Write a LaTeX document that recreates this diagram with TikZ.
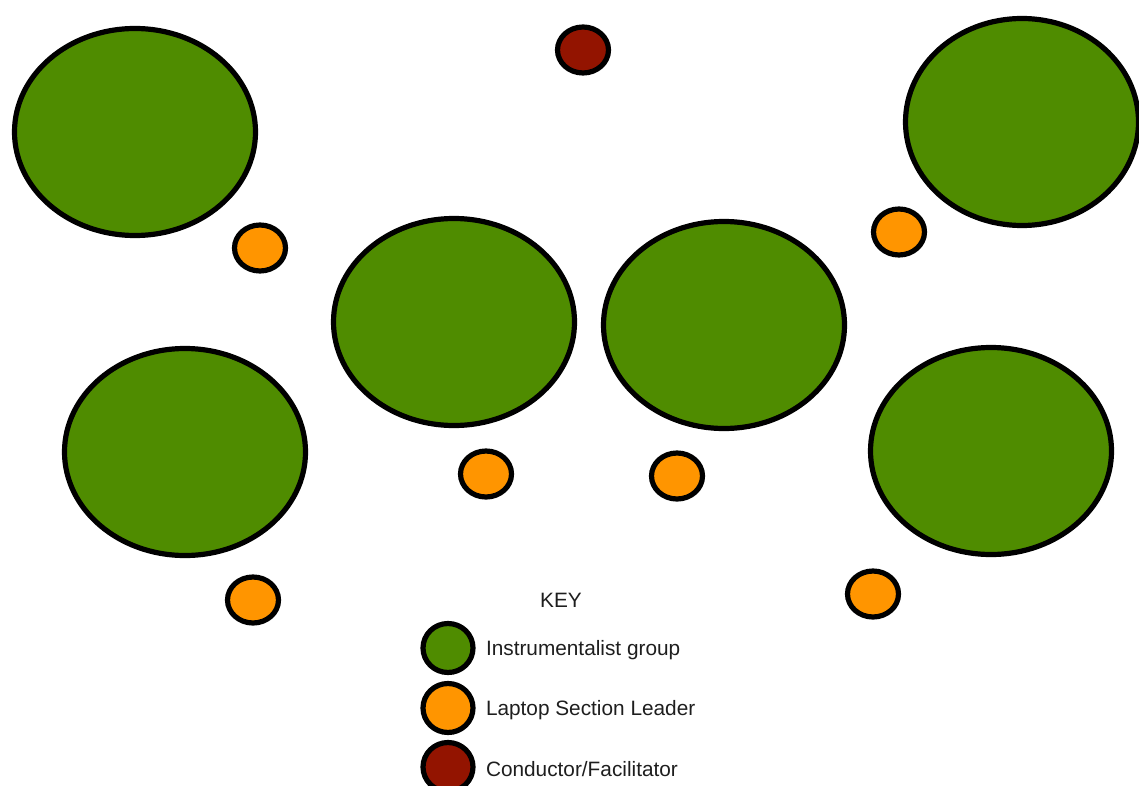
\documentclass[tikz,border=0pt]{standalone}
\usepackage{fontspec}
\setmainfont{Liberation Sans}
\usepackage{xcolor}
\usetikzlibrary{positioning, shapes.geometric}

\definecolor{groupgreen}{HTML}{4F8C00}
\definecolor{leaderorange}{HTML}{FF9500}
\definecolor{conductorred}{HTML}{931400}
\definecolor{keygrey}{HTML}{1E1E1E}

\begin{document}
\begin{tikzpicture}[
    x=0.5pt, y=-0.5pt,
    node distance=5pt,
    group/.style={
        ellipse,
        draw,
        line width=2.6pt,
        fill=groupgreen,
        inner sep=0pt,
        minimum width=120.5pt,
        minimum height=103.5pt
    },
    leader/.style={
        ellipse,
        draw,
        line width=2.6pt,
        fill=leaderorange,
        inner sep=0pt,
        minimum width=25.5pt,
        minimum height=23pt
    },
    conductor/.style={leader, fill=conductorred},
    keymark/.style={
        ellipse,
        draw,
        line width=2.6pt,
        inner sep=0pt,
        minimum width=25pt,
        minimum height=24.5pt
    },
    keytext/.style={inner sep=0pt, text=keygrey, font=\fontsize{10.4}{12}\selectfont}
]
\useasboundingbox (0,0) rectangle (1139,786);

% instrumentalist groups
\node[group] (grouptl) at (135,132) {};
\node[group, minimum width=116.5pt] (grouptr) at (1022,122) {};
\node[group] (groupml) at (454,322) {};
\node[group] (groupmr) at (724,325) {};
\node[group] (groupbl) at (185,452) {};
\node[group] (groupbr) at (991,451) {};

% laptop section leaders
\node[leader] (leadertl) at (260,248) {};
\node[leader] (leadertr) at (899,232) {};
\node[leader] (leaderml) at (486,474) {};
\node[leader] (leadermr) at (677,476) {};
\node[leader] (leaderbl) at (253,600) {};
\node[leader] (leaderbr) at (873,594) {};

% conductor
\node[conductor] (conductor) at (583,50) {};

% key
\node[keytext] (keytitle) at (561,600) {KEY};
\node[keymark, fill=groupgreen] (keygroup) at (448,648) {};
\node[keymark, fill=leaderorange] (keyleader) at (448,708) {};
\node[keymark, fill=conductorred] (keyconductor) at (448,767) {};

\node[keytext, right=of keygroup, yshift=-1pt] (keygrouptext) {Instrumentalist group};
\node[keytext, right=of keyleader, yshift=-1pt] (keyleadertext) {Laptop Section Leader};
\node[keytext, right=of keyconductor, yshift=-1pt] (keyconductortext) {Conductor/Facilitator};

\end{tikzpicture}
\end{document}
